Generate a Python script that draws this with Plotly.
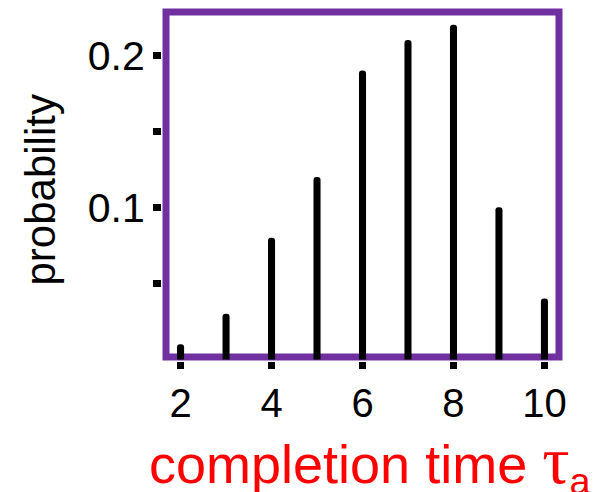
import plotly.graph_objects as go

# ---- data ----
completion_time = [2, 3, 4, 5, 6, 7, 8, 9, 10]
probability = [0.01, 0.03, 0.08, 0.12, 0.19, 0.21, 0.22, 0.10, 0.04]

x_tick_vals = [2, 4, 6, 8, 10]
x_tick_text = ["2", "4", "6", "8", "10"]
y_tick_vals = [0.1, 0.2]
y_tick_text = ["0.1", "0.2"]
y_minor_vals = [0.05, 0.15]

x_title = ("completion time <span style='font-family:Liberation Serif;font-size:68px'>τ</span>"
           "<sub>a</sub>")
y_title = "probability"

# ---- layout geometry (pixels) ----
W, H = 593, 492
PL, PR, PT, PB = 162, 563, 8, 361          # plot area edges
BX0, BX1, BY0, BY1 = 166, 559, 12, 357     # box line centres
PURPLE = "#7030A0"


def px_x(p):
    return (p - PL) / (PR - PL)


def px_y(p):
    return (PB - p) / (PB - PT)


# data extent of the box (R-style 4% padding)
x_lo, x_hi = 2 - 0.04 * 8, 10 + 0.04 * 8
y_lo = 0.01 - 0.04 * 0.21
y_hi = 0.22 + 0.04 * 0.21

sx = (BX1 - BX0) / (x_hi - x_lo)
sy = (BY1 - BY0) / (y_hi - y_lo)
x_range = [x_lo - (BX0 - PL) / sx, x_hi + (PR - BX1) / sx]
y_range = [y_lo - (PB - BY1) / sy, y_hi + (BY0 - PT) / sy]

fig = go.Figure()
fig.add_trace(go.Bar(
    x=completion_time, y=probability, width=0.155,
    marker=dict(color="black", line_width=0, cornerradius="50%"),
    cliponaxis=False, hoverinfo="skip",
))

fig.add_shape(type="rect", xref="x", yref="y",
              x0=x_lo, x1=x_hi, y0=y_lo, y1=y_hi,
              line=dict(color=PURPLE, width=7), layer="between")

fig.add_annotation(text=x_title, xref="paper", yref="paper",
                   x=px_x(147), y=px_y(420), xanchor="left", yanchor="top",
                   showarrow=False, font=dict(size=54, color="#FF0000"))
fig.add_annotation(text=y_title, xref="paper", yref="paper", textangle=-90,
                   x=px_x(14), y=px_y(190), xanchor="left", yanchor="middle",
                   showarrow=False, font=dict(size=42, color="black"))

fig.update_layout(
    width=W, height=H,
    margin=dict(l=PL, r=W - PR, t=PT, b=H - PB, pad=0, autoexpand=False),
    paper_bgcolor="white", plot_bgcolor="white",
    showlegend=False,
    font=dict(family="Liberation Sans, Arial, sans-serif", color="black"),
)

fig.update_xaxes(
    range=x_range, showgrid=False, zeroline=False, showline=False,
    automargin=False,
    tickmode="array", tickvals=x_tick_vals, ticktext=x_tick_text,
    ticks="outside", ticklen=7, tickwidth=7, tickcolor="black",
    tickfont=dict(size=40, color="black"),
)
fig.update_yaxes(
    range=y_range, showgrid=False, zeroline=False, showline=False,
    automargin=False,
    tickmode="array", tickvals=y_tick_vals, ticktext=y_tick_text,
    ticks="outside", ticklen=8, tickwidth=7, tickcolor="black",
    tickfont=dict(size=41, color="black"),
    minor=dict(tickmode="array", tickvals=y_minor_vals, ticks="outside", ticklen=8,
               tickwidth=7, tickcolor="black", showgrid=False),
)

fig.write_html("out.html", config={"displayModeBar": False},
               post_script="document.body.style.margin='0';document.body.style.overflow='hidden';")
